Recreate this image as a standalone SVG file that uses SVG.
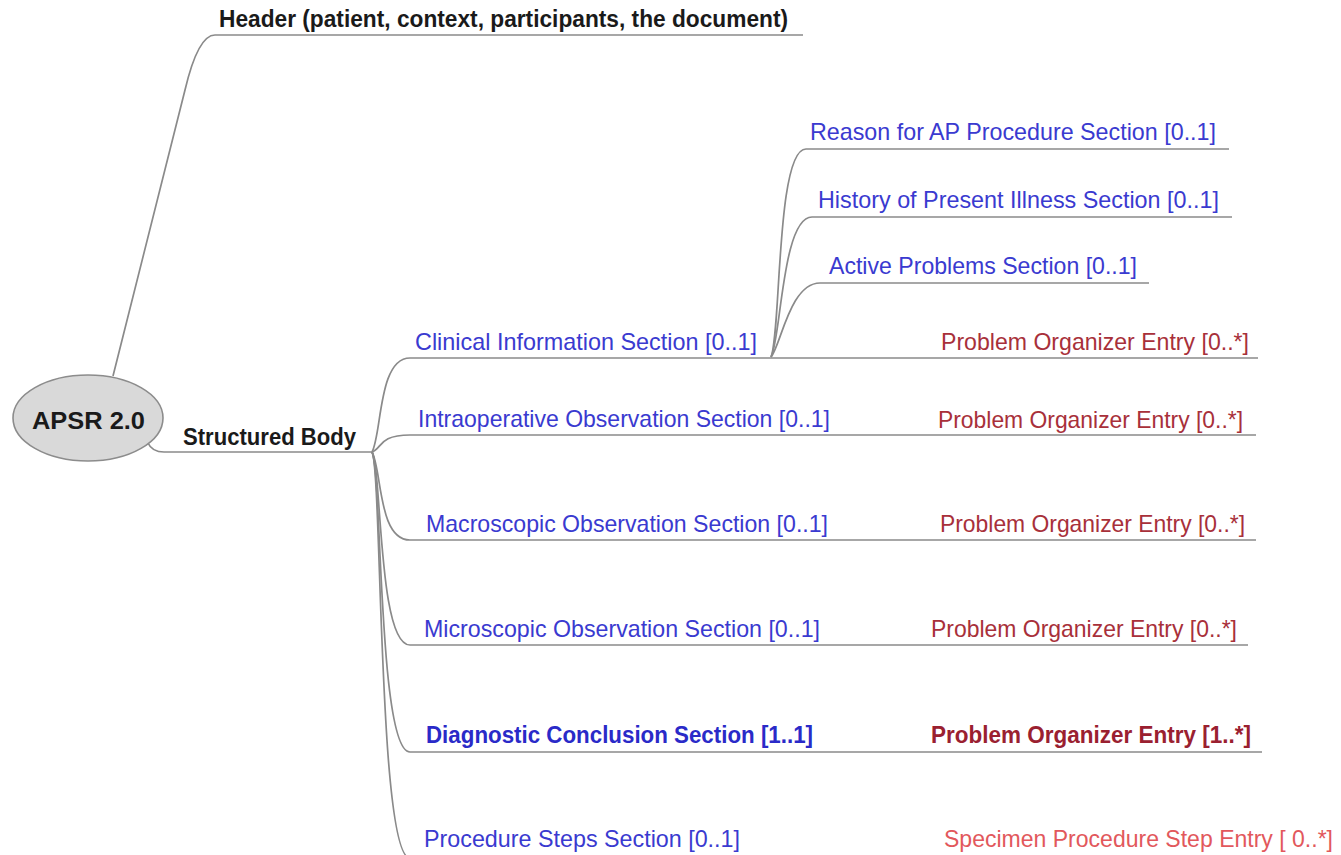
<svg xmlns="http://www.w3.org/2000/svg" width="1341" height="855" viewBox="0 0 1341 855">
<style>
  .edge { fill: none; stroke: #8a8a8a; stroke-width: 1.7; }
  text { font-family: "Liberation Sans", Arial, sans-serif; }
  .b { font-weight: bold; font-size: 23px; fill: #1a1a1a; }
  .sec { font-size: 24px; fill: #3a3ad0; }
  .secb { font-size: 23px; font-weight: bold; fill: #2a2ac8; }
  .ent { font-size: 24px; fill: #a8303a; }
  .entb { font-size: 23px; font-weight: bold; fill: #9a2030; }
  .spec { font-size: 24px; fill: #e2585c; }
</style>
<rect width="1341" height="855" fill="#ffffff"/>
<g id="connectors">
  <path class="edge" d="M113,376 L185,90 Q198,35 215,35 L803,35"/>
  <path class="edge" d="M148,443 Q152,452 164,452 L372,452"/>
  <path class="edge" d="M372,452 C382,434 378,358 410,358 L1258,358"/>
  <path class="edge" d="M372,452 C382,449 378,435 410,435 L1256,435"/>
  <path class="edge" d="M372,452 C382,470 378,540 410,540 L1256,540"/>
  <path class="edge" d="M372,452 C382,470 378,645 410,645 L1248,645"/>
  <path class="edge" d="M372,452 C382,470 378,752 410,752 L1262,752"/>
  <path class="edge" d="M372,452 C382,470 378,858 410,858 L1300,858"/>
  <path class="edge" d="M771,357 C781,335 776,149 806,149 L1229,149"/>
  <path class="edge" d="M771,357 C781,340 782,217 812,217 L1232,217"/>
  <path class="edge" d="M771,357 C781,345 790,283 820,283 L1149,283"/>
</g>
<g id="root">
  <ellipse cx="88" cy="418" rx="75" ry="43" fill="#d9d9d9" stroke="#8c8c8c" stroke-width="1.6"/>
  <text x="32" y="429" class="b" font-size="24" textLength="113" lengthAdjust="spacingAndGlyphs">APSR 2.0</text>
</g>
<g id="header"><text x="219" y="27" class="b" textLength="569" lengthAdjust="spacingAndGlyphs">Header (patient, context, participants, the document)</text></g>
<g id="structured-body"><text x="183" y="445" class="b" textLength="173" lengthAdjust="spacingAndGlyphs">Structured Body</text></g>
<g id="clinical"><text x="415" y="350" class="sec" textLength="342" lengthAdjust="spacingAndGlyphs">Clinical Information Section [0..1]</text></g>
<g id="reason"><text x="810" y="140" class="sec" textLength="406" lengthAdjust="spacingAndGlyphs">Reason for AP Procedure Section [0..1]</text></g>
<g id="history"><text x="818" y="208" class="sec" textLength="401" lengthAdjust="spacingAndGlyphs">History of Present Illness Section [0..1]</text></g>
<g id="active"><text x="829" y="274" class="sec" textLength="308" lengthAdjust="spacingAndGlyphs">Active Problems Section [0..1]</text></g>
<g id="clinical-entry"><text x="941" y="350" class="ent" textLength="308" lengthAdjust="spacingAndGlyphs">Problem Organizer Entry [0..*]</text></g>
<g id="intraop"><text x="418" y="427" class="sec" textLength="412" lengthAdjust="spacingAndGlyphs">Intraoperative Observation Section [0..1]</text></g>
<g id="intraop-entry"><text x="938" y="428" class="ent" textLength="305" lengthAdjust="spacingAndGlyphs">Problem Organizer Entry [0..*]</text></g>
<g id="macro"><text x="426" y="532" class="sec" textLength="402" lengthAdjust="spacingAndGlyphs">Macroscopic Observation Section [0..1]</text></g>
<g id="macro-entry"><text x="940" y="532" class="ent" textLength="305" lengthAdjust="spacingAndGlyphs">Problem Organizer Entry [0..*]</text></g>
<g id="micro"><text x="424" y="637" class="sec" textLength="396" lengthAdjust="spacingAndGlyphs">Microscopic Observation Section [0..1]</text></g>
<g id="micro-entry"><text x="931" y="637" class="ent" textLength="306" lengthAdjust="spacingAndGlyphs">Problem Organizer Entry [0..*]</text></g>
<g id="diag"><text x="426" y="743" class="secb" textLength="387" lengthAdjust="spacingAndGlyphs">Diagnostic Conclusion Section [1..1]</text></g>
<g id="diag-entry"><text x="931" y="743" class="entb" textLength="320" lengthAdjust="spacingAndGlyphs">Problem Organizer Entry [1..*]</text></g>
<g id="procedure"><text x="424" y="847" class="sec" textLength="316" lengthAdjust="spacingAndGlyphs">Procedure Steps Section [0..1]</text></g>
<g id="procedure-entry"><text x="944" y="847" class="spec" textLength="389" lengthAdjust="spacingAndGlyphs">Specimen Procedure Step Entry [ 0..*]</text></g>
</svg>
